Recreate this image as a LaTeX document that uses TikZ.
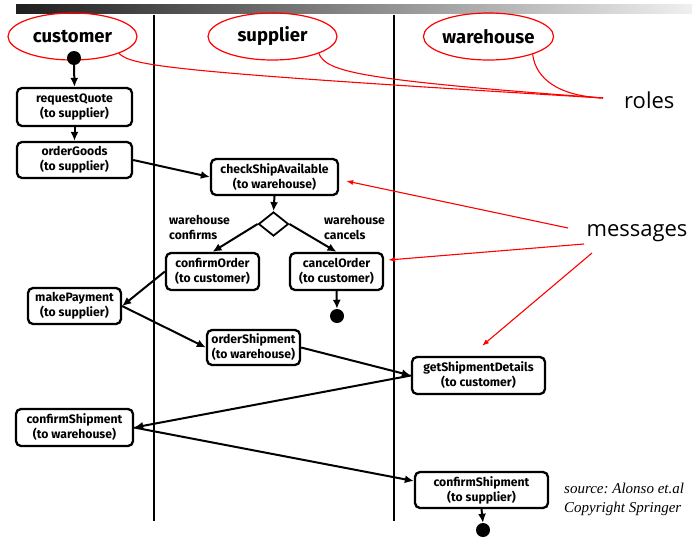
\documentclass[tikz,border=0pt]{standalone}
\usepackage{fontspec}
\setmainfont{Fira Sans}
\newfontfamily\notefont{Open Sans}
\newfontfamily\srcfont{Liberation Serif}
\usetikzlibrary{arrows.meta,shapes.geometric}

\begin{document}
\frenchspacing
\begin{tikzpicture}[x=1pt,y=-1pt,
  act/.style={draw, line width=2.3pt, rounded corners=5pt, align=center,
    inner sep=0pt, font=\fontsize{12.2}{15}\selectfont\bfseries},
  role/.style={draw=red, ellipse, line width=1.2pt, minimum width=129pt,
    minimum height=47pt, inner sep=0pt, font=\fontsize{18.5}{21}\selectfont\bfseries},
  flow/.style={line width=2pt, -{Latex[length=9pt,width=8pt]}},
  note/.style={red, line width=1.1pt},
  notearrow/.style={note, -{Latex[length=7pt,width=5pt]}},
  dot/.style={circle, fill=black, inner sep=0pt, minimum size=14pt},
  lane/.style={line width=2.4pt},
  guard/.style={font=\fontsize{12.2}{15}\selectfont\bfseries, align=left, inner sep=0pt},
  callout/.style={font=\notefont\fontsize{22}{26}\selectfont, inner sep=0pt}
]
\useasboundingbox (0,0) rectangle (692,536);

% title bar
\shade[left color=black!88, middle color=black!40, right color=black!6]
  (16,4) rectangle (692,13);

% swimlane separators
\draw[lane] (154,15) -- (154,521);
\draw[lane] (394,15) -- (394,521);

% roles
\node[role] (cust) at (72.5,36.5) {customer};
\node[role] (sup)  at (272.5,36.5) {supplier};
\node[role] (wh)   at (488.5,36.5) {warehouse};

% activities
\node[dot] (start) at (74,58) {};
\node[act, minimum width=115pt, minimum height=38pt] (rq) at (74.5,107) {requestQuote\\(to supplier)};
\node[act, minimum width=115pt, minimum height=36pt] (og) at (74.5,160) {orderGoods\\(to supplier)};
\node[act, minimum width=127pt, minimum height=36pt] (cs) at (274.5,177) {checkShipAvailable\\(to warehouse)};
\node[diamond, draw, line width=1.8pt, minimum width=30pt, minimum height=24pt, inner sep=0pt] (dec) at (273.5,224) {};
\node[act, minimum width=93pt, minimum height=37pt] (co) at (212.5,271.5) {confirmOrder\\(to customer)};
\node[act, minimum width=93pt, minimum height=37pt] (cn) at (336.5,271.5) {cancelOrder\\(to customer)};
\node[dot] (end1) at (337,316) {};
\node[act, minimum width=93pt, minimum height=36pt] (mp) at (74.5,306) {makePayment\\(to supplier)};
\node[act, minimum width=93pt, minimum height=35pt] (os) at (253.5,347.5) {orderShipment\\(to warehouse)};
\node[act, minimum width=133pt, minimum height=37pt] (gsd) at (478.5,375.5) {getShipmentDetails\\(to customer)};
\node[act, minimum width=117pt, minimum height=37pt] (csw) at (74.5,427.5) {confirmShipment\\(to warehouse)};
\node[act, minimum width=133pt, minimum height=36pt] (css) at (481.5,490) {confirmShipment\\(to supplier)};
\node[dot] (end2) at (483,530) {};

% guards
\node[guard, anchor=north west] (gc) at (169,215) {warehouse\\confirms};
\node[guard, anchor=north west] (gx) at (324,215) {warehouse\\cancels};

% control flow
\draw[flow] (start.south) -- (rq.north);
\draw[flow] (rq.south) -- (og.north);
\draw[flow] (og.east) -- (cs.west);
\draw[flow] (cs.south) -- (dec.north);
\draw[flow] (dec.west) -- (co.north);
\draw[flow] (dec.east) -- (cn.north);
\draw[flow] (cn.south) -- (end1.north);
\draw[flow] (co.west) -- (mp.east);
\draw[flow] (mp.east) -- (os.west);
\draw[flow] (os.east) -- (gsd.west);
\draw[flow] (gsd.west) -- (csw.east);
\draw[flow] (csw.east) -- ([yshift=9pt]css.west);
\draw[flow] (css.south) -- (end2.north);

% callouts
\node[callout, anchor=west] (roles) at (624,100) {roles};
\coordinate (rolesPt) at (603,98);
\draw[note] (cust.-20) .. controls (132,66) and (170,72) .. (rolesPt);
\draw[note] (sup.-20) .. controls (326,72) and (360,80) .. (rolesPt);
\draw[note] (wh.-22) .. controls (536,80) and (560,96) .. (rolesPt);

\node[callout] (msgs) at (637,233) {messages};
\coordinate (m1) at (568,228);
\coordinate (m2) at (584,244);
\coordinate (m3) at (592,253);
\draw[notearrow] (m1) -- ([xshift=7pt,yshift=-4pt]cs.east);
\draw[notearrow] (m2) -- ([xshift=4pt,yshift=11.5pt]cn.east);
\draw[notearrow] (m3) -- ([xshift=3.5pt,yshift=10pt]gsd.north);

% credit
\node[font=\srcfont\itshape\fontsize{15}{19}\selectfont, align=left, anchor=north west, inner sep=0pt] (src)
  at (564,483) {source: Alonso et.al\\Copyright Springer};
\end{tikzpicture}
\end{document}
